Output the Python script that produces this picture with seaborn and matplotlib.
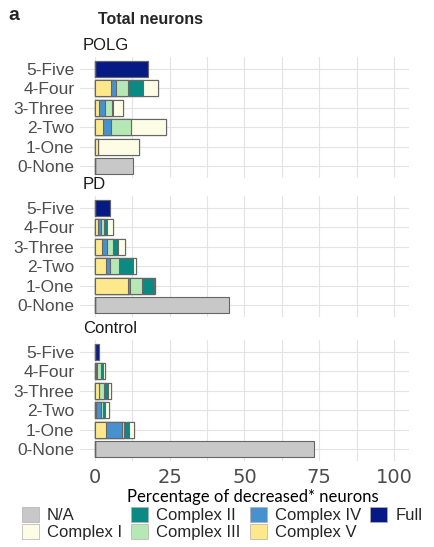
import matplotlib
matplotlib.use("Agg")
import matplotlib.pyplot as plt
import seaborn as sns
import pandas as pd
import numpy as np
from matplotlib.patches import Patch
from matplotlib.ticker import MultipleLocator

groups = ["POLG", "PD", "Control"]
rows = ["5-Five", "4-Four", "3-Three", "2-Two", "1-One", "0-None"]
stack_order = ["Complex V", "Complex IV", "Complex III", "Complex II", "Complex I", "Full", "N/A"]
legend_order = ["N/A", "Complex I", "Complex II", "Complex III", "Complex IV", "Complex V", "Full"]
x_ticks = [0, 25, 50, 75, 100]
x_label = "Percentage of decreased* neurons"
title = "Total neurons"

palette = {
    "N/A": "#c8c8c8",
    "Complex I": "#fdfde6",
    "Complex II": "#0b8a84",
    "Complex III": "#b5e8b5",
    "Complex IV": "#4791cf",
    "Complex V": "#fde98b",
    "Full": "#061a86",
}

# values (%) per row, rows ordered as in `rows`
polg_v = [0, 5.2, 1.3, 2.8, 1.1, 0]
polg_iv = [0, 1.8, 2.2, 2.6, 0, 0]
polg_iii = [0, 4.1, 2.3, 6.7, 0, 0]
polg_ii = [0, 4.8, 0.3, 0, 0, 0]
polg_i = [0, 5.2, 3.3, 11.7, 13.6, 0]
polg_full = [17.8, 0, 0, 0, 0, 0]
polg_na = [0, 0, 0, 0, 0, 12.8]

pd_v = [0, 1.1, 2.4, 3.7, 10.9, 0]
pd_iv = [0, 0.9, 1.7, 1.3, 0.8, 0]
pd_iii = [0, 1.1, 1.8, 3.0, 4.1, 0]
pd_ii = [0, 1.0, 1.9, 4.8, 4.0, 0]
pd_i = [0, 1.8, 2.2, 0.9, 0.2, 0]
pd_full = [5.0, 0, 0, 0, 0, 0]
pd_na = [0, 0, 0, 0, 0, 44.8]

ctl_v = [0, 0.5, 1.2, 0.3, 3.7, 0]
ctl_iv = [0, 0.3, 0.3, 1.7, 5.2, 0]
ctl_iii = [0, 1.2, 1.4, 0.6, 0.7, 0]
ctl_ii = [0, 0.8, 1.3, 0.7, 1.9, 0]
ctl_i = [0, 0.5, 1.1, 1.3, 1.7, 0]
ctl_full = [1.4, 0, 0, 0, 0, 0]
ctl_na = [0, 0, 0, 0, 0, 73.1]

values = {
    "POLG": dict(zip(stack_order, [polg_v, polg_iv, polg_iii, polg_ii, polg_i, polg_full, polg_na])),
    "PD": dict(zip(stack_order, [pd_v, pd_iv, pd_iii, pd_ii, pd_i, pd_full, pd_na])),
    "Control": dict(zip(stack_order, [ctl_v, ctl_iv, ctl_iii, ctl_ii, ctl_i, ctl_full, ctl_na])),
}

sns.set_theme(style="whitegrid")
plt.rcParams['font.family'] = ['Liberation Sans', 'DejaVu Sans']

W, H = 435, 547
fig = plt.figure(figsize=(W / 100, H / 100), dpi=100)
fig.patch.set_facecolor("white")

panel_tops = [57, 196, 340]
ph = 121
left, pw = 80, 329

for gi, (g, top) in enumerate(zip(groups, panel_tops)):
    ax = fig.add_axes([left / W, 1 - (top + ph) / H, pw / W, ph / H])
    df = pd.DataFrame({"row": rows})
    cum = np.zeros(len(rows))
    for comp in stack_order:
        cum = cum + np.array(values[g][comp], dtype=float)
        df[comp] = cum
    for comp in reversed(stack_order):
        sns.barplot(data=df, x=comp, y="row", order=rows, color=palette[comp],
                    saturation=1, edgecolor="#666666", linewidth=0.8, width=0.8,
                    errorbar=None, ax=ax, orient="h")
    ax.set_xlim(-5, 105)
    ax.set_ylim(5.6, -0.6)
    ax.set_xticks(x_ticks)
    ax.xaxis.set_minor_locator(MultipleLocator(12.5))
    ax.set_axisbelow(True)
    ax.grid(True, which="both", axis="x", color="#e3e3e3", lw=0.8)
    ax.grid(True, which="major", axis="y", color="#e3e3e3", lw=0.8)
    ax.set_facecolor("white")
    for s in ax.spines.values():
        s.set_visible(False)
    ax.set_xlabel("")
    ax.set_ylabel("")
    ax.tick_params(length=0, which="both")
    ax.tick_params(axis="y", labelsize=12.5, labelcolor="#4d4d4d", pad=4)
    if gi == len(groups) - 1:
        ax.tick_params(axis="x", labelsize=14, labelcolor="#4d4d4d", pad=5)
        for lab in ax.get_xticklabels():
            lab.set_family(["DejaVu Sans"])
    else:
        ax.tick_params(axis="x", labelbottom=False)
    ax.text(3 / pw, 1 + 7 / ph, g, transform=ax.transAxes, fontsize=12,
            color="#1a1a1a", va="baseline", ha="left")

fig.text(253 / W, 1 - 497 / H, x_label, ha="center", va="center",
         family=["Lato", "DejaVu Sans"], fontsize=12, color="black")
fig.text(98 / W, 1 - 24 / H, title, fontweight="bold", fontsize=11.5, va="baseline")
fig.text(8 / W, 1 - 20 / H, "a", fontweight="bold", fontsize=14, va="baseline")

handles = [Patch(facecolor=palette[c], edgecolor="#b0b0b0", lw=0.5, label=c) for c in legend_order]
fig.legend(handles=handles, ncol=4, loc="upper left", bbox_to_anchor=(22 / W, 1 - 507 / H),
           frameon=False, fontsize=12, handlelength=1.0, handleheight=1.0,
           handletextpad=0.5, columnspacing=0.55, labelspacing=0.05,
           borderpad=0, borderaxespad=0)

fig.savefig("out.png", dpi=100)
